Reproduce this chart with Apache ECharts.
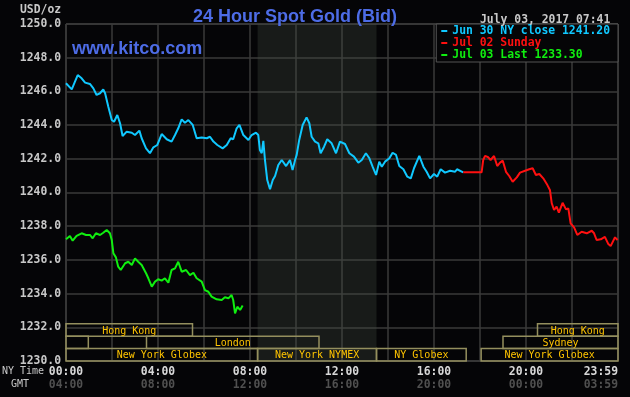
<!DOCTYPE html>
<html lang="en">
<head>
    <meta charset="UTF-8">
    <title>24 Hour Spot Gold</title>
    <script src="https://cdn.jsdelivr.net/npm/echarts/dist/echarts.min.js"></script>
    <style>
        body { margin: 0; background: #050507; }
        #chart { width: 630px; height: 397px; }
    </style>
</head>
<body>
<div id="chart"></div>
<script>
    // hours since 00:00 NY time, bid in USD/oz
    var jun30Time = [0.00, 0.25, 0.39, 0.51, 0.68, 0.83, 1.04, 1.19, 1.33, 1.48, 1.62, 1.70, 1.84, 1.99, 2.09, 2.23, 2.35, 2.46, 2.64, 2.86,
        3.00, 3.19, 3.29, 3.48, 3.65, 3.80, 3.97, 4.16, 4.38, 4.59, 4.74, 4.88, 5.03, 5.17, 5.32, 5.51, 5.68, 5.90, 6.12, 6.26,
        6.41, 6.58, 6.81, 6.99, 7.16, 7.27, 7.42, 7.54, 7.71, 7.93, 8.07, 8.26, 8.36, 8.43, 8.51, 8.58, 8.65, 8.75, 8.87, 8.99,
        9.09, 9.23, 9.38, 9.57, 9.74, 9.85, 9.96, 10.03, 10.14, 10.29, 10.46, 10.58, 10.68, 10.83, 10.97, 11.07, 11.22, 11.36, 11.55, 11.74,
        11.91, 12.13, 12.32, 12.52, 12.71, 12.86, 13.04, 13.19, 13.33, 13.48, 13.62, 13.73, 13.87, 14.06, 14.20, 14.35, 14.49, 14.67, 14.84, 14.99,
        15.13, 15.36, 15.54, 15.68, 15.83, 16.00, 16.14, 16.29, 16.48, 16.70, 16.92, 17.00, 17.27];
    var jun30Bid = [1246.48, 1246.12, 1246.58, 1246.97, 1246.78, 1246.52, 1246.44, 1246.18, 1245.79, 1245.89, 1246.12, 1245.89, 1245.09, 1244.30, 1244.20, 1244.60, 1244.11, 1243.35, 1243.61, 1243.55,
        1243.41, 1243.67, 1243.22, 1242.62, 1242.33, 1242.68, 1242.82, 1243.47, 1243.16, 1243.02, 1243.41, 1243.81, 1244.34, 1244.14, 1244.30, 1244.01, 1243.22, 1243.27, 1243.22, 1243.31,
        1243.02, 1242.82, 1242.62, 1242.82, 1243.22, 1243.16, 1243.81, 1244.01, 1243.41, 1243.12, 1243.41, 1243.55, 1243.41, 1242.52, 1242.33, 1243.07, 1241.93, 1240.74, 1240.19, 1240.74,
        1240.98, 1241.63, 1241.93, 1241.57, 1241.93, 1241.34, 1241.93, 1242.23, 1243.12, 1244.01, 1244.46, 1244.11, 1243.31, 1243.02, 1242.92, 1242.33, 1242.72, 1243.16, 1242.92, 1242.33,
        1243.02, 1242.88, 1242.33, 1242.13, 1241.77, 1241.93, 1242.33, 1242.03, 1241.53, 1241.04, 1241.83, 1241.53, 1241.83, 1242.03, 1242.36, 1242.23, 1241.57, 1241.38, 1240.94, 1240.84,
        1241.44, 1242.17, 1241.53, 1241.23, 1240.84, 1241.10, 1240.94, 1241.38, 1241.18, 1241.29, 1241.23, 1241.38, 1241.20];

    var jul02Time = [17.27, 18.07, 18.14, 18.22, 18.36, 18.46, 18.61, 18.75, 18.87, 18.99, 19.13, 19.27, 19.42, 19.60, 19.74, 19.96, 20.14, 20.29, 20.43, 20.58,
        20.75, 20.93, 21.04, 21.12, 21.22, 21.33, 21.43, 21.59, 21.74, 21.84, 21.94, 22.09, 22.23, 22.42, 22.64, 22.86, 22.96, 23.07, 23.25, 23.43,
        23.58, 23.68, 23.87, 23.98];
    var jul02Bid = [1241.20, 1241.20, 1241.93, 1242.17, 1242.09, 1241.93, 1242.17, 1241.57, 1241.77, 1241.89, 1241.23, 1240.98, 1240.64, 1240.90, 1241.18, 1241.29, 1241.38, 1241.44, 1241.04, 1241.10,
        1240.84, 1240.44, 1240.15, 1239.36, 1238.96, 1239.16, 1238.80, 1239.39, 1239.00, 1239.06, 1238.17, 1237.93, 1237.48, 1237.67, 1237.58, 1237.73, 1237.58, 1237.18, 1237.22, 1237.37,
        1236.94, 1236.82, 1237.34, 1237.18];

    var jul03Time = [0.00, 0.17, 0.29, 0.46, 0.68, 0.87, 1.04, 1.16, 1.30, 1.48, 1.62, 1.77, 1.91, 1.99, 2.06, 2.17, 2.27, 2.38, 2.57, 2.71,
        2.86, 3.00, 3.14, 3.29, 3.48, 3.58, 3.73, 3.87, 4.01, 4.16, 4.30, 4.45, 4.59, 4.74, 4.88, 5.03, 5.22, 5.39, 5.54, 5.68,
        5.90, 6.04, 6.19, 6.33, 6.55, 6.77, 6.91, 7.06, 7.20, 7.27, 7.35, 7.45, 7.57, 7.68];
    var jul03Bid = [1237.22, 1237.42, 1237.14, 1237.42, 1237.58, 1237.48, 1237.48, 1237.28, 1237.58, 1237.48, 1237.61, 1237.77, 1237.58, 1237.18, 1236.39, 1236.15, 1235.60, 1235.40, 1235.80, 1235.89,
        1235.70, 1236.09, 1235.89, 1235.70, 1235.21, 1234.91, 1234.41, 1234.71, 1234.85, 1234.77, 1234.91, 1234.65, 1235.40, 1235.50, 1235.89, 1235.30, 1235.40, 1235.10, 1235.24, 1234.91,
        1234.71, 1234.21, 1234.11, 1233.82, 1233.66, 1233.62, 1233.78, 1233.72, 1233.92, 1233.62, 1232.83, 1233.22, 1233.03, 1233.30];

    var seriesNames = ['Jun 30 NY close 1241.20', 'Jul 02 Sunday', 'Jul 03 Last 1233.30'];

    // market sessions: [start hour, end hour, row (0 = bottom)]
    var sessionNames = ['Hong Kong', 'Hong Kong', 'Sydney', 'London', 'Sydney', 'New York Globex', 'New York NYMEX', 'NY Globex', 'New York Globex'];
    var sessionSpans = [[0, 5.5, 2], [20.5, 24, 2], [0, 0.97, 1], [3.5, 11, 1], [19, 24, 1], [0, 8.33, 0], [8.33, 13.5, 0], [13.5, 17.4, 0], [18.05, 24, 0]];

    var nyTicks = ['00:00', '04:00', '08:00', '12:00', '16:00', '20:00', '23:59'];
    var gmtTicks = ['04:00', '08:00', '12:00', '16:00', '20:00', '00:00', '03:59'];

    var mono = '"DejaVu Sans Mono", monospace';
    var ROW_H = 12.4;

    function pairs(t, v) {
        return t.map(function (x, i) { return [x, v[i]]; });
    }

    var myChart = echarts.init(document.getElementById('chart'), null, {renderer: 'canvas'});

    var option = {
        backgroundColor: '#050507',
        animation: false,
        title: [
            {
                text: '24 Hour Spot Gold (Bid)',
                left: 188, top: 3,
                textStyle: {color: '#4d6ce6', fontSize: 18, fontWeight: 'bold', fontFamily: '"Liberation Sans", Arial, sans-serif'}
            },
            {
                text: 'www.kitco.com',
                left: 67, top: 35,
                textStyle: {color: '#4d6ce6', fontSize: 18, fontWeight: 'bold', fontFamily: '"Liberation Sans", Arial, sans-serif'}
            },
            {
                text: 'July 03, 2017 07:41',
                left: 475, top: 10,
                textStyle: {color: '#c8c8c8', fontSize: 11.4, fontWeight: 'bold', fontFamily: mono}
            }
        ],
        legend: {
            right: 12, top: 24,
            orient: 'vertical',
            itemWidth: 6, itemHeight: 2, itemGap: 0,
            padding: [1, 8, 1, 5],
            borderColor: '#555', borderWidth: 1,
            backgroundColor: '#050507',
            icon: 'rect',
            selectedMode: false,
            textStyle: {fontSize: 11.4, fontWeight: 'bold', fontFamily: mono, lineHeight: 12},
            data: [
                {name: seriesNames[0], textStyle: {color: '#10c8ff'}},
                {name: seriesNames[1], textStyle: {color: '#ff1010'}},
                {name: seriesNames[2], textStyle: {color: '#10ee10'}}
            ]
        },
        graphic: [
            {type: 'text', left: 20, top: 5, style: {text: 'USD/oz', fill: '#c8c8c8', font: 'bold 11.4px ' + mono}},
            {type: 'text', left: 2, top: 366, style: {text: 'NY Time', fill: '#c8c8c8', font: '10px ' + mono}},
            {type: 'text', left: 11, top: 379, style: {text: 'GMT', fill: '#c8c8c8', font: '10px ' + mono}}
        ],
        grid: {
            left: 66, right: 12, top: 24, bottom: 36,
            show: true, borderColor: '#555', borderWidth: 1
        },
        xAxis: {
            type: 'value', min: 0, max: 24, interval: 2,
            axisLine: {show: false}, axisTick: {show: false},
            splitLine: {show: true, lineStyle: {color: '#3a3a3a', width: 1.5}},
            axisLabel: {
                margin: 5,
                alignMaxLabel: 'right',
                formatter: function (v) {
                    if (v % 4 !== 0 && v !== 24) return '';
                    var i = Math.round(v / 4);
                    return '{a|' + nyTicks[i] + '}\n{b|' + gmtTicks[i] + '}';
                },
                rich: {
                    a: {color: '#d8d8d8', fontSize: 11.4, fontWeight: 'bold', fontFamily: mono, lineHeight: 13},
                    b: {color: '#505050', fontSize: 11.4, fontWeight: 'bold', fontFamily: mono, lineHeight: 13}
                }
            }
        },
        yAxis: {
            type: 'value', min: 1230, max: 1250, interval: 2,
            axisLine: {show: false}, axisTick: {show: false},
            splitLine: {show: true, lineStyle: {color: '#3a3a3a', width: 1.5}},
            axisLabel: {
                margin: 5, color: '#c8c8c8', fontSize: 11.4, fontWeight: 'bold', fontFamily: mono,
                formatter: function (v) { return v.toFixed(1); }
            }
        },
        series: [
            {
                name: 'sessions',
                type: 'custom',
                silent: true,
                z: 1,
                data: sessionSpans,
                renderItem: function (params, api) {
                    var x0 = api.coord([api.value(0), 1230])[0];
                    var x1 = api.coord([api.value(1), 1230])[0];
                    var bottom = params.coordSys.y + params.coordSys.height;
                    var y1 = bottom - api.value(2) * ROW_H;
                    var y0 = y1 - ROW_H;
                    var name = sessionNames[params.dataIndex];
                    var children = [
                        {type: 'rect', shape: {x: x0, y: y0, width: x1 - x0, height: ROW_H},
                            style: {fill: 'none', stroke: '#948f5e', lineWidth: 1.5}}
                    ];
                    // skip the label when the box is too narrow to hold it
                    if (x1 - x0 > name.length * 6 + 4) {
                        children.push({type: 'text', style: {text: name, x: (x0 + x1) / 2, y: (y0 + y1) / 2 + 1,
                                align: 'center', verticalAlign: 'middle', fill: '#ffc400', font: '10px ' + mono}});
                    }
                    return {type: 'group', children: children};
                }
            },
            {
                name: seriesNames[0],
                type: 'line',
                showSymbol: false,
                z: 3,
                color: '#10c8ff',
                lineStyle: {width: 2},
                data: pairs(jun30Time, jun30Bid),
                markArea: {
                    silent: true,
                    itemStyle: {color: 'rgba(70,80,70,0.3)'},
                    data: [[{xAxis: sessionSpans[6][0]}, {xAxis: sessionSpans[6][1]}]]
                }
            },
            {
                name: seriesNames[1],
                type: 'line',
                showSymbol: false,
                z: 3,
                color: '#ff1010',
                lineStyle: {width: 2},
                data: pairs(jul02Time, jul02Bid)
            },
            {
                name: seriesNames[2],
                type: 'line',
                showSymbol: false,
                z: 3,
                color: '#10ee10',
                lineStyle: {width: 2},
                data: pairs(jul03Time, jul03Bid)
            }
        ]
    };

    myChart.setOption(option);
</script>
</body>
</html>
